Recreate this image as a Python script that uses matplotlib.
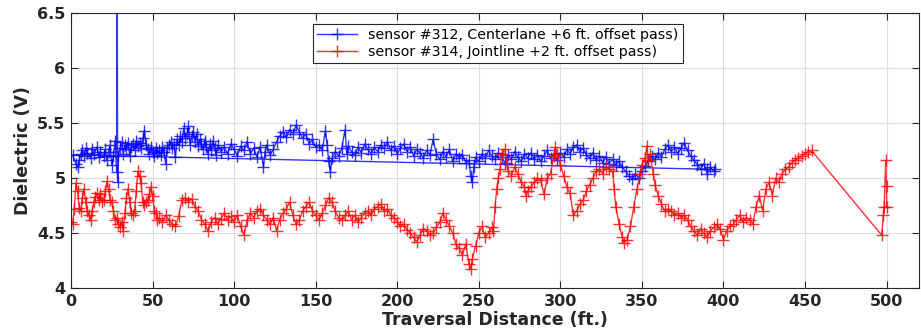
import matplotlib
matplotlib.use("Agg")
import matplotlib.pyplot as plt

# sensor #312 (blue), the first point is the retrace back to the start
blue_x = [390, 1, 3, 4, 5, 6, 7, 8, 9, 10, 12, 13, 14, 16, 17, 18, 20, 21, 22, 23, 24, 25, 26, 27,
          28, 28.3, 28.6, 29, 30, 31, 32, 33, 34, 35, 36, 37, 38, 39, 40, 41, 42, 43, 44, 45, 46,
          47, 48, 49, 50, 51, 52, 53, 54, 55, 56, 57, 58, 59, 60, 61, 62, 63, 64, 65, 66, 67, 68,
          69, 70, 71, 72, 73, 74, 75, 76, 77, 78, 79, 80, 81, 82, 83, 84, 85, 86, 87, 88, 89,
          90, 92, 94, 96, 98, 100, 102, 104, 106, 108, 110, 112, 114, 116, 118, 119, 120, 122,
          124, 126, 128, 130, 132, 134, 136, 138, 140, 142, 144, 146, 148, 150, 152, 154, 156,
          157, 158, 159, 160, 162, 164, 166, 168, 169, 170, 172, 174, 176, 178, 180, 182, 184,
          186, 188, 190, 192, 194, 196, 198, 200, 202, 204, 206, 208, 210, 212, 214, 216, 218,
          220, 222, 224, 226, 228, 230, 232, 234, 236, 238, 240, 242, 244, 245, 246, 247, 248,
          250, 252, 254, 256, 258, 260, 262, 264, 266, 268, 270, 272, 274, 276, 278, 280, 282,
          284, 286, 288, 290, 292, 294, 296, 298, 300, 302, 304, 306, 308, 310, 312, 314, 316,
          318, 320, 322, 324, 326, 328, 330, 332, 334, 336, 338, 340, 342, 344, 346, 348, 350,
          352, 354, 356, 358, 360, 362, 364, 366, 368, 370, 372, 374, 376, 378, 380, 382, 384,
          386, 388, 390, 392, 394, 395]
blue_y = [5.08, 5.21, 5.13, 5.10, 5.16, 5.22, 5.25, 5.20, 5.27, 5.23, 5.18, 5.26, 5.22, 5.28,
          5.19, 5.24, 5.20, 5.26, 5.16, 5.24, 5.30, 5.12, 5.20, 5.34, 5.05, 6.90, 4.96, 5.20,
          5.27, 5.33, 5.22, 5.30, 5.26, 5.32, 5.20, 5.28, 5.31, 5.25, 5.34, 5.29, 5.32, 5.27,
          5.36, 5.43, 5.30, 5.26, 5.22, 5.28, 5.24, 5.20, 5.27, 5.23, 5.25, 5.21, 5.28, 5.24,
          5.13, 5.27, 5.30, 5.33, 5.27, 5.31, 5.19, 5.35, 5.30, 5.38, 5.33, 5.45, 5.36, 5.40,
          5.47, 5.30, 5.38, 5.42, 5.33, 5.40, 5.29, 5.35, 5.31, 5.26, 5.34, 5.28, 5.22, 5.31,
          5.25, 5.34, 5.27, 5.21, 5.30, 5.24, 5.28, 5.22, 5.31, 5.26, 5.20, 5.29, 5.25, 5.33,
          5.22, 5.27, 5.19, 5.28, 5.10, 5.24, 5.30, 5.21, 5.26, 5.33, 5.38, 5.42, 5.37, 5.44,
          5.40, 5.48, 5.42, 5.36, 5.40, 5.31, 5.35, 5.28, 5.30, 5.25, 5.43, 5.30, 5.15, 5.05,
          5.18, 5.24, 5.20, 5.27, 5.44, 5.22, 5.29, 5.24, 5.21, 5.28, 5.23, 5.31, 5.26, 5.22,
          5.28, 5.24, 5.30, 5.27, 5.33, 5.25, 5.29, 5.22, 5.27, 5.31, 5.24, 5.28, 5.20, 5.26,
          5.23, 5.18, 5.25, 5.21, 5.35, 5.22, 5.17, 5.24, 5.19, 5.26, 5.15, 5.22, 5.18, 5.21,
          5.14, 5.16, 5.02, 4.96, 5.10, 5.19, 5.15, 5.22, 5.18, 5.25, 5.20, 5.17, 5.23, 5.19,
          5.14, 5.21, 5.17, 5.24, 5.19, 5.15, 5.22, 5.18, 5.23, 5.17, 5.21, 5.15, 5.20, 5.25,
          5.18, 5.22, 5.16, 5.23, 5.19, 5.26, 5.22, 5.28, 5.30, 5.24, 5.27, 5.21, 5.18, 5.23,
          5.16, 5.20, 5.14, 5.19, 5.13, 5.17, 5.12, 5.15, 5.10, 5.06, 5.02, 4.99, 5.04, 5.00,
          5.06, 5.11, 5.15, 5.20, 5.17, 5.23, 5.19, 5.26, 5.30, 5.24, 5.28, 5.22, 5.27, 5.32,
          5.25, 5.20, 5.16, 5.12, 5.08, 5.13, 5.04, 5.10, 5.06, 5.08]

# sensor #314 (red)
red_x = [0, 1, 2, 3, 4, 5, 6, 7, 8, 9, 10, 11, 12, 13, 14, 15, 16, 17, 18, 19, 20, 21, 22, 23,
         24, 25, 26, 27, 28, 29, 30, 31, 32, 33, 34, 35, 36, 37, 38, 39, 40, 41, 42, 43, 44, 45,
         46, 47, 48, 49, 50, 51, 52, 53, 54, 56, 58, 60, 62, 64, 66, 68, 70, 72, 74, 76, 78, 80,
         82, 84, 86, 88, 90, 92, 94, 96, 98, 100, 102, 104, 106, 108, 110, 112, 114, 116, 118,
         120, 122, 124, 126, 128, 130, 132, 134, 136, 138, 140, 142, 144, 146, 148, 150, 152,
         154, 156, 158, 160, 162, 164, 166, 168, 170, 172, 174, 176, 178, 180, 182, 184, 186,
         188, 190, 192, 194, 196, 198, 200, 202, 204, 206, 208, 210, 212, 214, 216, 218, 220,
         222, 224, 226, 228, 230, 232, 234, 236, 238, 240, 242, 244, 245, 246, 248, 250, 252,
         254, 256, 258, 259, 260, 261, 262, 263, 264, 266, 267, 268, 270, 272, 274, 276, 278,
         279, 280, 282, 284, 286, 288, 290, 292, 294, 296, 297, 298, 300, 302, 304, 306, 308,
         310, 312, 314, 316, 318, 320, 322, 324, 326, 328, 330, 332, 333, 334, 336, 338, 339,
         341, 343, 345, 347, 349, 350, 352, 353, 354, 355, 357, 358, 360, 362, 364, 366, 368,
         370, 372, 374, 376, 378, 380, 382, 384, 386, 388, 390, 392, 394, 396, 398, 400, 402,
         404, 406, 408, 410, 412, 414, 416, 418, 420, 422, 424, 426, 428, 430, 432, 434, 436,
         438, 440, 442, 444, 446, 448, 450, 452, 454, 497, 498, 498.5, 499.5, 500, 500]
red_y = [4.60, 4.58, 4.72, 4.95, 4.88, 4.73, 4.70, 4.82, 4.90, 4.78, 4.70, 4.66, 4.62, 4.70,
         4.78, 4.83, 4.86, 4.80, 4.85, 4.78, 4.80, 4.88, 4.97, 4.90, 4.80, 4.78, 4.70, 4.62,
         4.64, 4.58, 4.55, 4.60, 4.52, 4.68, 4.82, 4.90, 4.78, 4.68, 4.66, 4.70, 4.88, 5.06,
         5.02, 4.95, 4.78, 4.75, 4.78, 4.80, 4.85, 4.92, 4.84, 4.70, 4.68, 4.62, 4.64, 4.60,
         4.66, 4.62, 4.58, 4.56, 4.65, 4.80, 4.82, 4.78, 4.81, 4.74, 4.70, 4.62, 4.58, 4.52,
         4.60, 4.64, 4.58, 4.63, 4.68, 4.62, 4.65, 4.60, 4.66, 4.56, 4.48, 4.62, 4.68, 4.64,
         4.70, 4.72, 4.66, 4.62, 4.58, 4.64, 4.52, 4.62, 4.68, 4.72, 4.78, 4.66, 4.58, 4.62,
         4.70, 4.74, 4.78, 4.70, 4.66, 4.62, 4.68, 4.75, 4.82, 4.78, 4.70, 4.64, 4.62, 4.66,
         4.70, 4.62, 4.66, 4.60, 4.64, 4.68, 4.70, 4.66, 4.72, 4.74, 4.76, 4.70, 4.72, 4.66,
         4.64, 4.60, 4.56, 4.58, 4.53, 4.50, 4.46, 4.42, 4.48, 4.54, 4.52, 4.48, 4.50, 4.55,
         4.60, 4.68, 4.62, 4.56, 4.50, 4.40, 4.36, 4.30, 4.40, 4.22, 4.17, 4.26, 4.38, 4.50,
         4.56, 4.46, 4.50, 4.55, 4.52, 4.74, 4.90, 5.00, 5.08, 5.22, 5.26, 5.14, 5.06, 5.02,
         5.10, 5.04, 4.96, 4.92, 4.84, 4.88, 4.92, 4.96, 5.00, 4.98, 4.85, 5.00, 5.04, 5.20,
         5.28, 5.22, 5.12, 5.02, 4.92, 4.86, 4.66, 4.70, 4.76, 4.80, 4.88, 4.94, 5.00, 5.06,
         5.08, 5.04, 5.10, 5.08, 5.06, 4.90, 4.74, 4.58, 4.46, 4.41, 4.44, 4.56, 4.74, 4.90,
         5.04, 5.12, 5.18, 5.29, 5.16, 5.22, 5.04, 4.94, 4.84, 4.76, 4.70, 4.72, 4.70, 4.66,
         4.68, 4.64, 4.66, 4.62, 4.56, 4.52, 4.48, 4.54, 4.50, 4.46, 4.52, 4.55, 4.58, 4.54,
         4.44, 4.52, 4.56, 4.58, 4.62, 4.66, 4.60, 4.64, 4.62, 4.58, 4.74, 4.84, 4.70, 4.90,
         4.96, 4.84, 5.00, 4.96, 5.04, 5.08, 5.10, 5.14, 5.16, 5.18, 5.20, 5.22, 5.24, 5.25,
         4.48, 4.66, 4.74, 5.16, 4.93, 4.74]

x_ticks = [0, 50, 100, 150, 200, 250, 300, 350, 400, 450, 500]
y_ticks = [4, 4.5, 5, 5.5, 6, 6.5]

dark = '#262626'

fig = plt.figure(figsize=(9.21, 3.36), dpi=100)
ax = fig.add_axes([0.0771, 0.1429, 0.9209, 0.8184])

ax.plot(blue_x, blue_y, color='#0000ff', linewidth=1, marker='+', markersize=8,
        markeredgewidth=1, alpha=0.8,
        label='sensor #312, Centerlane +6 ft. offset pass)')
ax.plot(red_x, red_y, color='#ff0000', linewidth=1, marker='+', markersize=8,
        markeredgewidth=1, alpha=0.8,
        label='sensor #314, Jointline +2 ft. offset pass)')

ax.set_xlim(0, 520)
ax.set_ylim(4, 6.5)
ax.set_xticks(x_ticks)
ax.set_yticks(y_ticks)
ax.set_yticklabels(['4', '4.5', '5', '5.5', '6', '6.5'])
ax.grid(True, color='#dcdcdc', linewidth=0.8)
ax.set_axisbelow(True)
ax.tick_params(direction='in', top=True, right=True, length=5, width=0.8,
               colors=dark, labelsize=11.5, pad=4)
for lab in ax.get_xticklabels() + ax.get_yticklabels():
    lab.set_fontweight('bold')
for s in ax.spines.values():
    s.set_color(dark)
    s.set_linewidth(0.8)

ax.set_xlabel('Traversal Distance (ft.)', fontsize=12.5, fontweight='bold', color=dark,
              labelpad=2)
ax.set_ylabel('Dielectric (V)', fontsize=12.5, fontweight='bold', color=dark, labelpad=4)

leg = ax.legend(loc='upper left', bbox_to_anchor=(0.34, 0.929),
                bbox_transform=fig.transFigure, fontsize=10.2, fancybox=False,
                framealpha=1, edgecolor=dark, borderaxespad=0, borderpad=0.3,
                handlelength=2.8, labelspacing=0.2)
leg.get_frame().set_linewidth(0.8)

fig.savefig('out.png', dpi=100)
